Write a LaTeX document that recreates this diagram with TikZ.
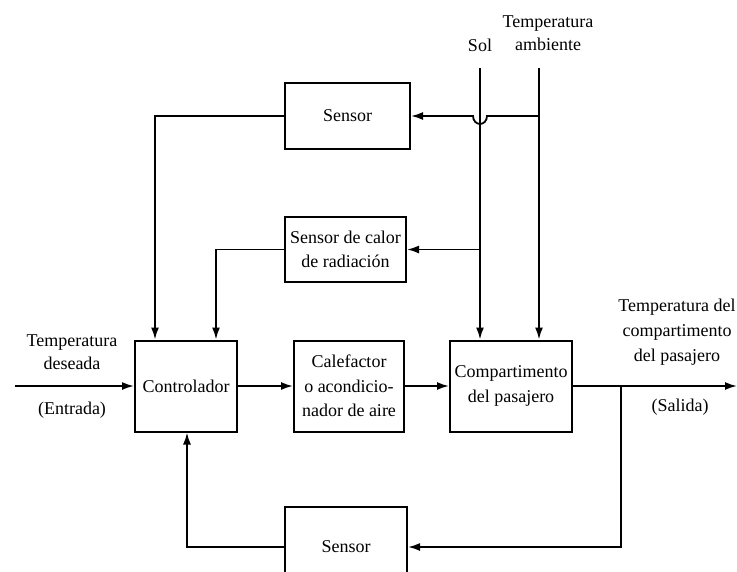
\documentclass[tikz,border=0pt]{standalone}
\usepackage{fontspec}
\setmainfont{Liberation Serif}
\usetikzlibrary{arrows.meta}
\begin{document}
\begin{tikzpicture}[x=1pt,y=-1pt, line width=1.8pt,
  blk/.style={draw, line width=2pt, inner sep=0pt, align=center,
              font=\fontsize{18}{24.5}\selectfont},
  lbl/.style={inner sep=0pt, align=center, font=\fontsize{18}{23}\selectfont},
  sig/.style={-{Latex[length=12pt,width=8pt]}},
]
\useasboundingbox (0,0) rectangle (737,571);

% blocks
\node[blk, minimum width=125pt, minimum height=66pt] (stop) at (347.5,116) {Sensor};
\node[blk, minimum width=121pt, minimum height=65pt] (srad) at (345.5,249.5) {Sensor de calor\\de radiación};
\node[blk, minimum width=102pt, minimum height=91pt] (ctrl) at (186,386) {Controlador};
\node[blk, minimum width=110pt, minimum height=91pt] (heat) at (349,386) {Calefactor\\o acondicio-\\nador de aire};
\node[blk, minimum width=122pt, minimum height=91pt] (comp) at (511,386) {Compartimento\\del pasajero};
\node[blk, minimum width=122pt, minimum height=80pt] (sbot) at (346,547) {Sensor};

% labels
\node[lbl] (lsol) at (480,45) {Sol};
\node[lbl] (lamb) at (548,33) {Temperatura\\ambiente};
\node[lbl] (lin) at (72,352) {Temperatura\\deseada};
\node[lbl] (lent) at (72,410) {(Entrada)};
\node[lbl, font=\fontsize{18}{25}\selectfont] (lout) at (677,332) {Temperatura del\\compartimento\\del pasajero};
\node[lbl] (lsal) at (680,407) {(Salida)};

% free ends of the connectors
\coordinate (in) at (15,386);
\coordinate (out) at (737,386);
\coordinate (tap) at (621,386);
\coordinate (solTop) at (480,68);
\coordinate (ambTop) at (539,68);

% main path
\draw[sig] (in) -- (ctrl.west);
\draw[sig] (ctrl) -- (heat);
\draw[sig] (heat) -- (comp);
\draw[sig] (comp.east) -- (out);

% disturbances
\draw[sig] (solTop) -- (solTop |- comp.north);
\draw[sig] (ambTop) -- (ambTop |- comp.north);
\draw[sig] (ambTop |- stop.east) -- (487,116) arc[start angle=0, end angle=180, x radius=7, y radius=8] -- (stop.east);
\draw[sig] (solTop |- srad.east) -- (srad.east);

% feedback paths
\draw[sig] (stop.west) -- (155,116) -- (155,386 |- ctrl.north);
\draw[sig] (srad.west) -- (216,249.5) -- (216,386 |- ctrl.north);
\draw[sig] (tap) -- (tap |- sbot.east) -- (sbot.east);
\draw[sig] (sbot.west) -- (187,547) -- (187,386 |- ctrl.south);
\end{tikzpicture}
\end{document}
